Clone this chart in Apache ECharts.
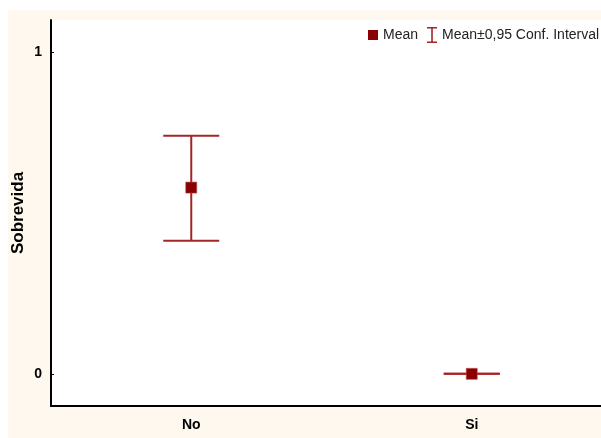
<!DOCTYPE html>
<html>
<head>
<meta charset="utf-8">
<script src="https://cdn.jsdelivr.net/npm/echarts@6/dist/echarts.min.js"></script>
<style>
  html, body { margin: 0; padding: 0; background: #ffffff; }
  #chart { position: absolute; left: 8px; top: 10px; width: 593px; height: 428px; }
</style>
</head>
<body>
<div id="chart"></div>
<script>
// Survival by group: mean with 95% confidence interval
const categories = ['No', 'Si'];
const means = [0.579, 0.0];
const ciLower = [0.414, 0.0];
const ciUpper = [0.740, 0.0];
const yTicks = [0, 1];

const darkRed = '#8b0000';
const whiskerRed = '#a32626';
const fontFamily = 'Arial, "Liberation Sans", sans-serif';

const chart = echarts.init(document.getElementById('chart'), null, { renderer: 'canvas' });

const meanData = categories.map((c, i) => [i, means[i]]);
const ciData = categories.map((c, i) => [i, ciLower[i], ciUpper[i]]);

const option = {
  backgroundColor: '#fef8ef',
  animation: false,
  grid: {
    left: 43, top: 10, width: 561, height: 386,
    containLabel: false,
    outerBoundsMode: 'none',
    show: true, backgroundColor: '#ffffff', borderWidth: 0
  },
  legend: {
    left: 360, top: 17, padding: 0,
    itemWidth: 10, itemHeight: 16, itemGap: 9,
    textStyle: { fontFamily, fontSize: 14, color: '#222' },
    selectedMode: false,
    data: [
      { name: 'Mean', icon: 'path://M0,0H10V10H0Z', itemStyle: { borderWidth: 0 } },
      { name: 'Mean±0,95 Conf. Interval', icon: 'path://M0,0H10V1.5H5.8V14.5H10V16H0V14.5H4.2V1.5H0Z' }
    ]
  },
  xAxis: {
    type: 'category',
    data: categories,
    boundaryGap: true,
    axisLine: { onZero: false, lineStyle: { color: '#000', width: 2 } },
    axisTick: { inside: true, alignWithLabel: true, length: 3, lineStyle: { color: '#000' } },
    axisLabel: { fontFamily, fontSize: 14, fontWeight: 'bold', color: '#000', margin: 12 },
    splitLine: { show: false }
  },
  yAxis: {
    type: 'value',
    min: -0.1, max: 1.1,
    name: 'Sobrevida',
    nameLocation: 'middle',
    nameGap: 24,
    nameMoveOverlap: false,
    nameTextStyle: { fontFamily, fontSize: 17, fontWeight: 'bold', color: '#000' },
    axisLine: { show: true, onZero: false, lineStyle: { color: '#000', width: 2 } },
    axisTick: { show: true, inside: true, length: 3, customValues: yTicks, lineStyle: { color: '#000' } },
    axisLabel: { fontFamily, fontSize: 14, fontWeight: 'bold', color: '#000', margin: 9, customValues: yTicks },
    splitLine: { show: false }
  },
  series: [
    {
      name: 'Mean±0,95 Conf. Interval',
      type: 'custom',
      z: 2,
      itemStyle: { color: whiskerRed },
      encode: { x: 0, y: [1, 2] },
      data: ciData,
      renderItem: function (params, api) {
        const idx = api.value(0);
        const lo = api.coord([idx, api.value(1)]);
        const hi = api.coord([idx, api.value(2)]);
        const half = 28;
        const style = { stroke: whiskerRed, lineWidth: 2 };
        return {
          type: 'group',
          children: [
            { type: 'line', shape: { x1: lo[0], y1: lo[1], x2: hi[0], y2: hi[1] }, style },
            { type: 'line', shape: { x1: hi[0] - half, y1: hi[1], x2: hi[0] + half, y2: hi[1] }, style },
            { type: 'line', shape: { x1: lo[0] - half, y1: lo[1], x2: lo[0] + half, y2: lo[1] }, style }
          ]
        };
      }
    },
    {
      name: 'Mean',
      type: 'scatter',
      z: 3,
      symbol: 'rect',
      symbolSize: 11,
      itemStyle: { color: darkRed, borderColor: '#b84a4a', borderWidth: 0.6, opacity: 1 },
      data: meanData
    }
  ]
};

chart.setOption(option);
</script>
</body>
</html>
